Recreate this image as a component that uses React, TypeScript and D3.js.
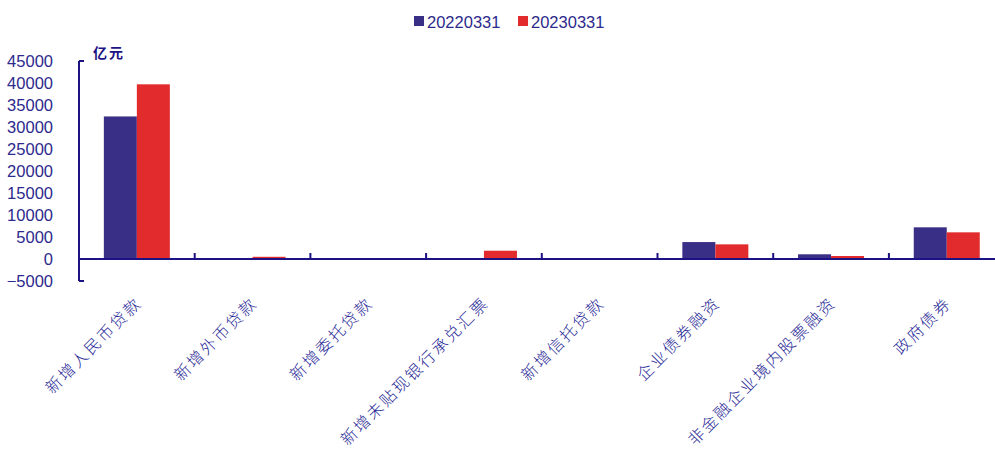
import React from "react";
import * as d3 from "d3";

const categories = [
  "新增人民币贷款",
  "新增外币贷款",
  "新增委托贷款",
  "新增未贴现银行承兑汇票",
  "新增信托贷款",
  "企业债券融资",
  "非金融企业境内股票融资",
  "政府债券",
];
const seriesNames = ["20220331", "20230331"];
const values2022 = [32400, 60, 30, 200, -200, 3850, 1070, 7200];
const values2023 = [39700, 500, 20, 1880, 30, 3330, 680, 6060];
const yTicks = [-5000, 0, 5000, 10000, 15000, 20000, 25000, 30000, 35000, 40000, 45000];

const colors = ["#3a2f86", "#e12b2d"];
const axisColor = "#1c1283";
const textColor = "#2c2a8c";

const W = 995;
const H = 450;

export default function App() {
  const left = 79;
  const step = 115.7;
  const x0 = d3
    .scaleBand<string>()
    .domain(categories)
    .range([left, left + step * categories.length])
    .paddingInner(0)
    .paddingOuter(0);
  const barW = 33;
  const outer = (x0.bandwidth() / barW - 2) / 2;
  const x1 = d3
    .scaleBand<string>()
    .domain(seriesNames)
    .range([0, x0.bandwidth()])
    .paddingInner(0)
    .paddingOuter(outer);
  const y = d3.scaleLinear().domain([-5000, 45000]).range([281, 61]);
  const series = [values2022, values2023];

  return (
    <svg
      width={W}
      height={H}
      style={{ position: "absolute", left: 0, top: 0, background: "#fff" }}
      fontFamily="Liberation Sans, Arial, sans-serif"
    >
      {/* legend */}
      {seriesNames.map((s, i) => {
        const lx = [414, 518][i];
        return (
          <g key={s}>
            <rect x={lx} y={16} width={10} height={10} fill={colors[i]} />
            <text x={lx + 13} y={27.5} fontSize={16.5} fill={textColor}>
              {s}
            </text>
          </g>
        );
      })}

      {/* unit */}
      <text
        x={93}
        y={58}
        fontSize={14}
        fontWeight="bold"
        letterSpacing={2}
        fill={axisColor}
        fontFamily="Noto Sans CJK SC, sans-serif"
      >
        亿元
      </text>

      {/* bars */}
      {categories.map((c, ci) =>
        series.map((vals, si) => {
          const v = vals[ci];
          const x = (x0(c) as number) + (x1(seriesNames[si]) as number);
          const y0 = y(0);
          const yv = y(v);
          return (
            <rect
              key={c + si}
              x={x}
              y={Math.min(y0, yv)}
              width={x1.bandwidth()}
              height={Math.abs(yv - y0)}
              fill={colors[si]}
            />
          );
        })
      )}

      {/* y axis */}
      <line x1={left} x2={left} y1={y(45000)} y2={y(-5000)} stroke={axisColor} strokeWidth={2} />
      <line x1={left} x2={left + 5} y1={y(45000)} y2={y(45000)} stroke={axisColor} strokeWidth={2} />
      <line x1={left} x2={left + 5} y1={y(-5000)} y2={y(-5000)} stroke={axisColor} strokeWidth={2} />
      {yTicks.map((t) => (
        <text
          key={t}
          x={53}
          y={y(t)}
          dy="0.36em"
          textAnchor="end"
          fontSize={16.5}
          fill={textColor}
        >
          {t < 0 ? "\u2212" + Math.abs(t) : t}
        </text>
      ))}

      {/* x axis */}
      <line x1={left} x2={W} y1={y(0)} y2={y(0)} stroke={axisColor} strokeWidth={2} />
      {categories.slice(1).map((c) => (
        <line
          key={c}
          x1={x0(c) as number}
          x2={x0(c) as number}
          y1={y(0)}
          y2={y(0) - 6}
          stroke={axisColor}
          strokeWidth={2}
        />
      ))}

      {/* category labels */}
      {categories.map((c) => {
        const cx = (x0(c) as number) + x0.bandwidth() / 2;
        return (
          <text
            key={c}
            transform={`translate(${cx + 6},${304}) rotate(-45)`}
            textAnchor="end"
            fontSize={16}
            letterSpacing={2.3}
            fill="#1f1f96"
            fontFamily="Noto Sans CJK SC, sans-serif"
            fontWeight={300}
          >
            {c}
          </text>
        );
      })}
    </svg>
  );
}
